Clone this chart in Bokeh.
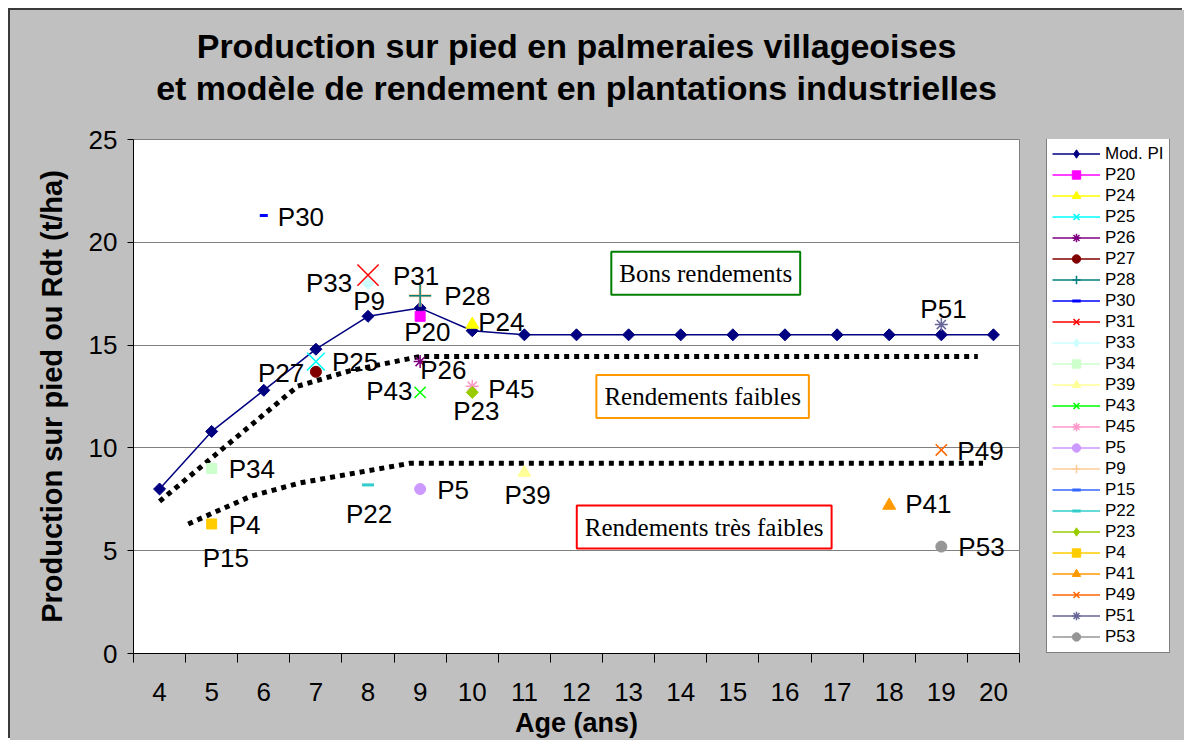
import math
from bokeh.plotting import figure
from bokeh.layouts import row
from bokeh.models import (ColumnDataSource, FixedTicker, Legend, LegendItem, Label, Range1d, Title)
from bokeh.embed import file_html
from bokeh.resources import INLINE
from bokeh.core.properties import value

# ---------------- data ----------------
ages = list(range(4, 21))
mod_pi = [8.0, 10.8, 12.8, 14.8, 16.4, 16.8, 15.7, 15.5, 15.5, 15.5, 15.5,
          15.5, 15.5, 15.5, 15.5, 15.5, 15.5]

plot_names = ["P20", "P24", "P25", "P26", "P27", "P28", "P30", "P31", "P33", "P34",
              "P39", "P43", "P45", "P5", "P9", "P15", "P22", "P23", "P4", "P41",
              "P49", "P51", "P53"]
plot_ages = [9, 10, 7, 9, 7, 9, 6, 8, 8, 5,
             11, 9, 10, 9, 9, 5, 8, 10, 5, 18,
             19, 19, 19]
plot_yields = [16.4, 16.0, 14.2, 14.2, 13.7, 17.4, 21.3, 18.4, 18.0, 9.0,
               8.8, 12.7, 13.0, 8.0, 17.4, 6.3, 8.2, 12.7, 6.3, 7.2,
               9.9, 16.0, 5.2]

# hand-drawn dotted boundaries
upper_x = [4.0, 6.65, 7.65, 9.0, 19.7]
upper_y = [7.4, 13.0, 13.75, 14.45, 14.45]
lower_x = [4.55, 5.75, 6.7, 8.8, 19.8]
lower_y = [6.3, 7.65, 8.3, 9.25, 9.25]

zone_texts = ["Bons rendements", "Rendements faibles", "Rendements très faibles"]
zone_x = [14.48, 14.42, 14.45]
zone_y = [18.5, 12.5, 6.15]
zone_colors = ["#008000", "#FF9900", "#FF0000"]

x_ticks = ages
y_ticks = [0, 5, 10, 15, 20, 25]

title_line1 = "Production sur pied en palmeraies villageoises"
title_line2 = "et modèle de rendement en plantations industrielles"

# ---------------- styles ----------------
FONT = "Liberation Sans"
GRAY = "#c0c0c0"
styles = {
    "P20": ("square", "#FF00FF", 10),
    "P24": ("triangle", "#FFFF00", 13),
    "P25": ("x", "#00FFFF", 25),
    "P26": ("asterisk", "#800080", 13),
    "P27": ("circle", "#800000", 11),
    "P28": ("cross", "#008080", 22),
    "P30": ("dash", "#0000FF", 8),
    "P31": ("x", "#FF0000", 30),
    "P33": ("diamond", "#CCFFFF", 12),
    "P34": ("square", "#CCFFCC", 10),
    "P39": ("triangle", "#FFFF99", 13),
    "P43": ("x", "#00FF00", 16),
    "P45": ("asterisk", "#FF99CC", 13),
    "P5": ("circle", "#CC99FF", 11),
    "P9": ("cross", "#FFCC99", 22),
    "P15": ("dash", "#3366FF", 8),
    "P22": ("dash", "#33CCCC", 12),
    "P23": ("diamond", "#99CC00", 12),
    "P4": ("square", "#FFCC00", 10),
    "P41": ("triangle", "#FF9900", 13),
    "P49": ("x", "#FF6600", 16),
    "P51": ("asterisk", "#666699", 13),
    "P53": ("circle", "#969696", 11),
}
# label offsets in screen pixels (dx right, dy down)
label_offsets = {
    "P30": (14, 1), "P33": (-62, 0), "P31": (25, 1), "P9": (-67, 5), "P28": (24, 0),
    "P20": (-16, 16), "P24": (6, -3), "P25": (16, 0), "P27": (-58, 1), "P26": (0, 8),
    "P43": (-54, -1), "P45": (16, 3), "P23": (-19, 19), "P34": (17, 1), "P4": (17, 1),
    "P15": (-9, 34), "P22": (-22, 29), "P5": (17, 1), "P39": (-20, 22), "P41": (16, -1),
    "P49": (16, 1), "P51": (-21, -16), "P53": (17, 0),
}
# in the chart, the tan P9 cross sits beneath the teal P28 cross
draw_first = {"P9": "P28"}


def add_series(fig, in_legend=False):
    """Draw the model line and every plot point; return legend items by name."""
    items = {}
    ml = fig.line(ages, mod_pi, line_color="#000080", line_width=1.5)
    if in_legend:
        ms = fig.scatter(ages, mod_pi, marker="diamond", size=12,
                         fill_color="#000080", line_color="#000080")
    else:
        ms = fig.scatter(ages, mod_pi, marker="square", angle=math.pi / 4, size=8.5,
                         fill_color="#000080", line_color="#000080")
    items["Mod. PI"] = LegendItem(label="Mod. PI", renderers=[ml, ms])

    order = list(zip(plot_names, plot_ages, plot_yields))
    if not in_legend:
        for a_name, before in draw_first.items():
            rec = [r for r in order if r[0] == a_name][0]
            order.remove(rec)
            idx = [r[0] for r in order].index(before)
            order.insert(idx, rec)

    for name, a, y in order:
        mk, col, sz = styles[name]
        lr = fig.line([a], [y], line_color=col, line_width=1.5)
        kw = dict(fill_color=col, line_color=col)
        if mk == "diamond":
            if in_legend:
                sr = fig.scatter([a], [y], marker="diamond", size=sz, **kw)
            else:
                sr = fig.scatter([a], [y], marker="square", angle=math.pi / 4,
                                 size=sz / 1.414, **kw)
        elif mk == "dash":
            sr = fig.scatter([a], [y], marker="dash", size=sz, line_width=3, **kw)
        elif mk in ("x", "cross", "asterisk"):
            lw = 3 if (name in draw_first and not in_legend) else 1.5
            sr = fig.scatter([a], [y], marker=mk, size=sz, line_width=lw, **kw)
        else:
            sr = fig.scatter([a], [y], marker=mk, size=sz, **kw)
        items[name] = LegendItem(label=name, renderers=[lr, sr])
    return [items["Mod. PI"]] + [items[n] for n in plot_names]


# ---------------- main chart ----------------
p = figure(width=1030, height=730, x_range=Range1d(3.5, 20.5), y_range=Range1d(0, 25),
           output_backend="svg", toolbar_location=None,
           min_border_left=123, min_border_right=21, min_border_top=129, min_border_bottom=85)
p.title.visible = False
p.border_fill_color = GRAY
p.background_fill_color = "white"
p.outline_line_color = "#808080"
p.outline_line_width = 1

# two title lines; Title text bottom sits standoff/2 above its panel bottom
t2 = Title(text=title_line2, align="center", text_font=FONT, text_font_size="34px",
           text_font_style="bold", text_color="black", standoff=65)
t1 = Title(text=title_line1, align="center", text_font=FONT, text_font_size="34px",
           text_font_style="bold", text_color="black", standoff=-61)
p.add_layout(t2, "above")
p.add_layout(t1, "above")

p.xgrid.visible = False
p.ygrid.ticker = FixedTicker(ticks=[5, 10, 15, 20])
p.ygrid.grid_line_color = "#808080"
p.ygrid.grid_line_width = 1

p.yaxis.ticker = FixedTicker(ticks=y_ticks)
p.yaxis.major_tick_out = 6
p.yaxis.major_tick_in = 0
p.yaxis.minor_tick_out = 0
p.yaxis.minor_tick_in = 0
p.yaxis.axis_line_color = "black"
p.yaxis.major_tick_line_color = "black"
p.yaxis.major_label_text_font = FONT
p.yaxis.major_label_text_font_size = "26px"
p.yaxis.major_label_text_color = "black"
p.yaxis.major_label_standoff = 10
p.yaxis.axis_label = "Production sur pied ou Rdt (t/ha)"
p.yaxis.axis_label_text_font = FONT
p.yaxis.axis_label_text_font_size = "29px"
p.yaxis.axis_label_text_font_style = "bold"
p.yaxis.axis_label_text_color = "black"
p.yaxis.axis_label_standoff = 18

p.xaxis.ticker = FixedTicker(ticks=x_ticks,
                             minor_ticks=[a - 0.5 for a in x_ticks] + [x_ticks[-1] + 0.5])
p.xaxis.major_tick_out = 0
p.xaxis.major_tick_in = 0
p.xaxis.minor_tick_out = 9
p.xaxis.minor_tick_in = 0
p.xaxis.minor_tick_line_color = "black"
p.xaxis.axis_line_color = "black"
p.xaxis.major_label_text_font = FONT
p.xaxis.major_label_text_font_size = "26px"
p.xaxis.major_label_text_color = "black"
p.xaxis.major_label_standoff = 20
p.xaxis.axis_label = "Age (ans)"
p.xaxis.axis_label_text_font = FONT
p.xaxis.axis_label_text_font_size = "27px"
p.xaxis.axis_label_text_font_style = "bold"
p.xaxis.axis_label_text_color = "black"
p.xaxis.axis_label_standoff = 4

p.line(upper_x, upper_y, line_color="black", line_width=5, line_dash="5 5")
p.line(lower_x, lower_y, line_color="black", line_width=5, line_dash="5 5")

add_series(p, in_legend=False)

lab_src = ColumnDataSource(dict(
    x=plot_ages, y=plot_yields, text=plot_names,
    dx=[label_offsets[n][0] for n in plot_names],
    dy=[label_offsets[n][1] for n in plot_names],
))
p.text(x="x", y="y", text="text", x_offset="dx", y_offset="dy", source=lab_src,
       text_font=value(FONT), text_font_size="26px", text_color="black",
       text_align="left", text_baseline="middle")

for t, zx, zy, zc in zip(zone_texts, zone_x, zone_y, zone_colors):
    p.add_layout(Label(x=zx, y=zy, text=t, text_font="Liberation Serif", text_font_size="25px",
                       text_color="black", text_align="center", text_baseline="middle",
                       background_fill_color="white", border_line_color=zc, border_line_width=2,
                       padding=8))

# ---------------- legend panel (same series, kept out of view) ----------------
lg = figure(width=144, height=730, x_range=Range1d(100, 101), y_range=Range1d(100, 101),
            output_backend="svg", toolbar_location=None,
            x_axis_location=None, y_axis_location=None,
            min_border_left=0, min_border_right=0, min_border_top=0, min_border_bottom=0)
lg.title.visible = False
lg.xgrid.visible = False
lg.ygrid.visible = False
lg.outline_line_color = None
lg.background_fill_color = GRAY
lg.border_fill_color = GRAY
legend_items = add_series(lg, in_legend=True)

legend = Legend(items=legend_items, location=(6, 0), orientation="vertical",
                label_text_font=FONT, label_text_font_size="17px", label_text_color="black",
                glyph_width=48, glyph_height=21, label_height=21, spacing=0, padding=5,
                label_standoff=5, border_line_color="black", border_line_width=1,
                background_fill_color="white", background_fill_alpha=1.0, margin=0)
lg.add_layout(legend, "center")

layout = row(p, lg, spacing=0)
layout.margin = (10, 0, 0, 10)
layout.styles = {"background-color": GRAY, "box-shadow": "-2px -2px 0 #3a3a3a"}
open("out.html", "w").write(file_html(layout, INLINE))
